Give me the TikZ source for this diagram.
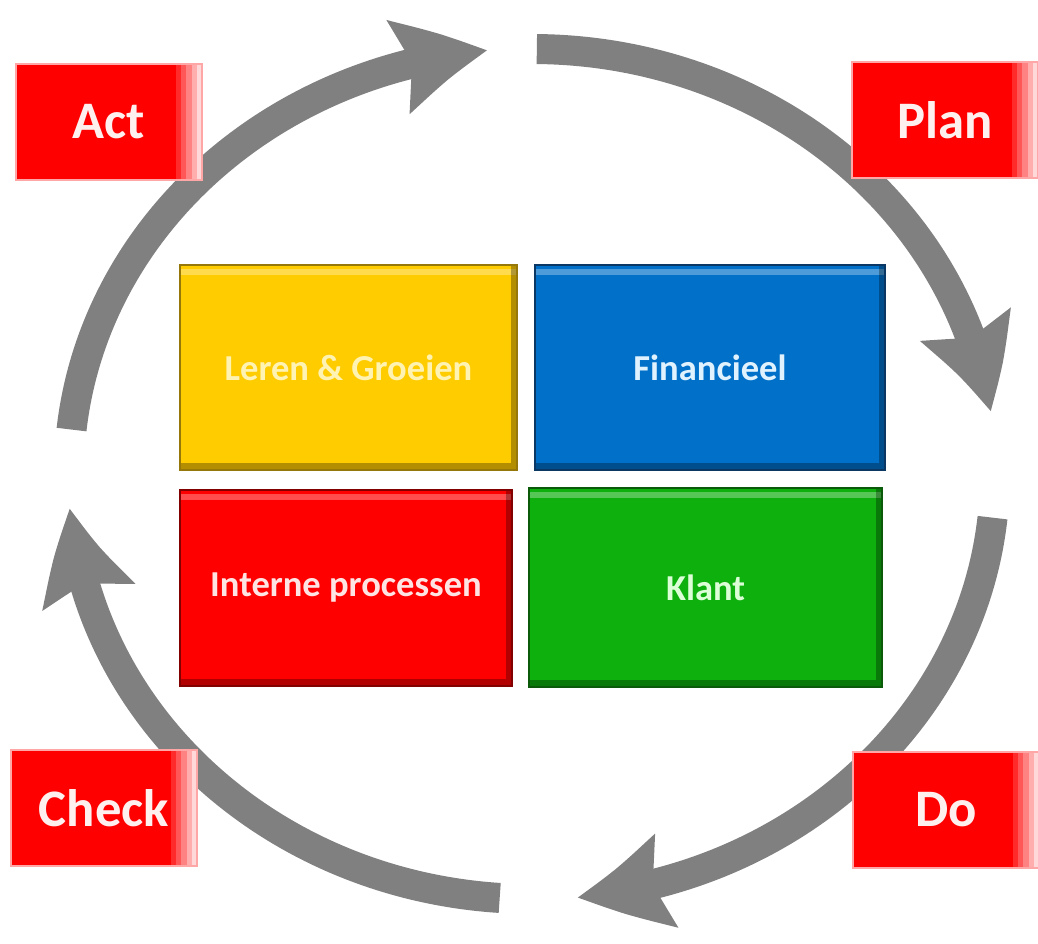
\documentclass[tikz,border=0pt]{standalone}
\usepackage{fontspec}
\setmainfont{Carlito}
\usetikzlibrary{arrows.meta,bending}
\definecolor{ringgray}{RGB}{128,128,128}
\definecolor{qyellow}{RGB}{255,204,0}
\definecolor{qyellowdark}{RGB}{150,120,10}
\definecolor{qyellowtext}{RGB}{255,243,180}
\definecolor{qblue}{RGB}{0,112,200}
\definecolor{qbluedark}{RGB}{10,55,100}
\definecolor{qbluetext}{RGB}{225,242,255}
\definecolor{qred}{RGB}{255,0,0}
\definecolor{qreddark}{RGB}{130,0,0}
\definecolor{qredtext}{RGB}{255,228,228}
\definecolor{qgreen}{RGB}{14,176,14}
\definecolor{qgreendark}{RGB}{10,90,10}
\definecolor{qgreentext}{RGB}{220,255,215}
\tikzstyle{ring}=[ringgray,line width=0.3cm,-{Stealth[length=0.9cm,width=0.92cm,inset=0.13cm,bend]}]
\tikzstyle{phase}=[rectangle,minimum width=1.86cm,minimum height=1.16cm,inner sep=0,fill=red,draw=red!35,line width=0.6pt,text=red!6!white,font=\fontsize{15}{18}\selectfont\bfseries,
  path picture={\foreach \i [evaluate=\i as \k using int(100-17*\i)] in {1,...,5}
    \fill[red!\k!white] ([xshift={(\i-6)*0.052cm}]path picture bounding box.north east) rectangle ([xshift={(\i-5)*0.052cm}]path picture bounding box.south east);}]
\tikzstyle{quad}=[rectangle,inner sep=0,line width=0.7pt,font=\fontsize{10.4}{12}\selectfont\bfseries,
  path picture={
    \fill[white,opacity=.3] ([yshift=-0.04cm]path picture bounding box.north west) rectangle ([yshift=-0.1cm]path picture bounding box.north east);
    \fill[black,opacity=.3] (path picture bounding box.south west) rectangle ([yshift=0.07cm]path picture bounding box.south east);
    \fill[black,opacity=.3] ([xshift=-0.06cm]path picture bounding box.north east) rectangle ([yshift=0.07cm]path picture bounding box.south east);}]

\begin{document}
\begin{tikzpicture}
\useasboundingbox (0,0) rectangle (10.38,9.44);
\coordinate (c) at (5.32,4.70);
% the PDCA ring, clockwise
\foreach \s/\e in {174/95.5, 89.4/8.4, -5.9/-84.4, -94/-175.4}
	\draw[ring] ([shift={(\s:4.63 and 4.25)}]c) arc[start angle=\s,end angle=\e,x radius=4.63,y radius=4.25];
% phase labels
\foreach \lbl/\x/\y in {Act/1.09/8.22, Plan/9.45/8.24, Check/1.04/1.36, Do/9.46/1.34}
	\node[phase] (\lbl) at (\x,\y) {\lbl};
% the four perspectives
\node[quad,fill=qyellow,draw=qyellowdark,text=qyellowtext,minimum width=3.37cm,minimum height=2.05cm] (leren) at (3.485,5.765) {Leren \& Groeien};
\node[quad,fill=qblue,draw=qbluedark,text=qbluetext,minimum width=3.50cm,minimum height=2.05cm] (fin) at (7.10,5.765) {Financieel};
\node[quad,fill=qred,draw=qreddark,text=qredtext,minimum width=3.32cm,minimum height=1.96cm] (intern) at (3.46,3.56) {Interne processen};
\node[quad,fill=qgreen,draw=qgreendark,text=qgreentext,minimum width=3.53cm,minimum height=1.99cm] (klant) at (7.055,3.565) {Klant};
\end{tikzpicture}
\end{document}
